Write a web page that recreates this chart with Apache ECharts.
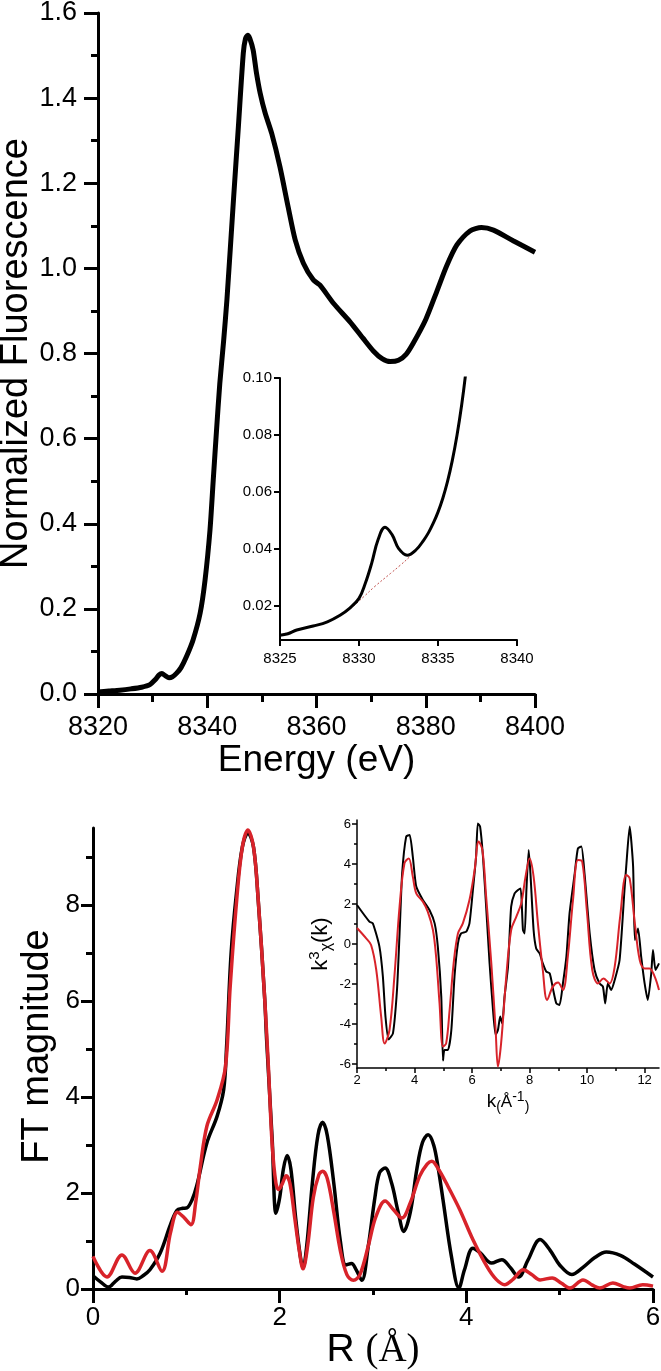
<!DOCTYPE html>
<html><head><meta charset="utf-8">
<script src="https://cdn.jsdelivr.net/npm/echarts@6/dist/echarts.min.js"></script>
<style>html,body{margin:0;padding:0;background:#fff}#c{width:661px;height:1371px}</style>
</head><body><div id="c"></div><script>
// ---------- DATA ----------
// XANES main spectrum
const xanesEnergy = [8320,8322,8324,8326,8328,8329.5,8330.5,8331.2,8331.7,8332.3,8333.0,8333.6,8334.4,8335.2,8336.2,8337.4,8338.7,8339.6,8340.5,8341.1,8341.7,8342.3,8343.0,8343.6,8344.8,8345.7,8346.6,8347.0,8347.4,8347.8,8348.4,8349.0,8349.7,8350.6,8351.8,8353.3,8354.8,8356.1,8357.6,8359.4,8360.6,8363.1,8366.1,8368.5,8370.4,8372.0,8373.5,8375.0,8376.4,8377.7,8380.0,8382.0,8383.8,8385.7,8388.1,8390.2,8392.4,8396.0,8400];
const xanesMu = [0.005,0.007,0.009,0.012,0.016,0.022,0.034,0.045,0.048,0.043,0.038,0.040,0.049,0.062,0.088,0.127,0.19,0.268,0.385,0.503,0.62,0.73,0.83,0.926,1.161,1.333,1.506,1.54,1.548,1.54,1.513,1.46,1.411,1.365,1.317,1.239,1.145,1.067,1.012,0.973,0.961,0.918,0.875,0.836,0.806,0.788,0.781,0.784,0.798,0.824,0.88,0.945,1.005,1.055,1.088,1.096,1.090,1.065,1.038];
// Pre-edge inset
const preEdgeEnergy = [8325,8325.5,8326.06,8327.1,8328.0,8328.8,8329.4,8330.0,8330.4,8330.8,8331.2,8331.65,8332.1,8332.5,8333.05,8333.6,8334.1,8334.4,8334.7,8335.0,8335.3,8335.6,8335.9,8336.2,8336.5,8336.75,8337.0];
const preEdgeMu = [0.0097,0.0102,0.0115,0.0129,0.0144,0.0167,0.0191,0.0226,0.0279,0.0349,0.0431,0.0476,0.0449,0.0402,0.0378,0.0396,0.0431,0.0457,0.0490,0.0529,0.0577,0.0636,0.0709,0.0798,0.0906,0.1015,0.1144];
const baselineEnergy = [8325,8326.06,8327.1,8328.0,8328.8,8329.3,8330.3,8331.0,8332.0,8332.6,8333.2,8333.8,8334.1,8334.4,8334.7,8335.0,8335.3,8335.6,8335.9,8336.2,8336.5,8336.75,8337.0];
const baselineMu = [0.0097,0.0115,0.0129,0.0144,0.0167,0.0183,0.0232,0.0268,0.0314,0.0342,0.0372,0.0408,0.0431,0.0457,0.0490,0.0529,0.0577,0.0636,0.0709,0.0798,0.0906,0.1015,0.1144];
// FT magnitude
const ftExpR = [0,0.08,0.167,0.24,0.31,0.39,0.47,0.54,0.61,0.72,0.83,0.90,0.96,1.006,1.06,1.11,1.22,1.33,1.40,1.43,1.48,1.54,1.60,1.66,1.72,1.77,1.84,1.86,1.92,1.96,2.00,2.04,2.08,2.12,2.17,2.22,2.25,2.29,2.35,2.41,2.46,2.51,2.58,2.65,2.71,2.77,2.82,2.88,2.95,3.02,3.07,3.13,3.20,3.27,3.33,3.40,3.47,3.53,3.59,3.65,3.70,3.75,3.84,3.92,3.98,4.07,4.15,4.27,4.38,4.47,4.56,4.66,4.79,4.90,5.00,5.13,5.25,5.38,5.50,5.65,5.80,6.00];
const ftExpMag = [0.277,0.15,0.04,0.16,0.25,0.24,0.21,0.28,0.40,0.75,1.34,1.64,1.68,1.69,1.85,2.14,3.04,3.6,4.15,5.0,7.0,8.3,9.2,9.5,9.2,8.1,6.03,5.2,3.11,1.58,1.9,2.5,2.78,2.5,1.5,0.7,0.44,0.9,2.2,3.2,3.47,3.2,2.2,1.0,0.5,0.53,0.4,0.18,0.9,1.9,2.42,2.52,2.2,1.6,1.2,1.6,2.5,3.05,3.21,3.0,2.5,1.86,0.68,0.02,0.4,0.85,0.75,0.54,0.61,0.45,0.25,0.6,1.03,0.8,0.5,0.30,0.45,0.66,0.77,0.7,0.52,0.25];
const ftFitR = [0,0.15,0.31,0.45,0.61,0.74,0.83,0.905,0.97,1.05,1.10,1.15,1.22,1.33,1.42,1.47,1.54,1.60,1.66,1.72,1.77,1.84,1.88,1.92,1.96,1.99,2.03,2.07,2.11,2.16,2.21,2.25,2.30,2.36,2.42,2.46,2.51,2.58,2.65,2.72,2.79,2.86,2.95,3.03,3.13,3.22,3.31,3.40,3.50,3.58,3.63,3.70,3.80,3.93,4.07,4.22,4.32,4.41,4.50,4.61,4.70,4.79,4.92,5.02,5.11,5.25,5.35,5.43,5.57,5.68,5.75,5.89,6.00];
const ftFitMag = [0.68,0.25,0.71,0.33,0.80,0.37,1.17,1.60,1.5,1.34,1.8,2.55,3.39,3.94,4.64,6.3,8.11,9.2,9.56,9.2,8.11,6.03,4.6,3.0,2.2,2.07,2.2,2.36,2.2,1.5,0.8,0.42,0.9,1.9,2.38,2.45,2.3,1.6,0.8,0.3,0.18,0.3,0.9,1.5,1.83,1.65,1.48,1.8,2.35,2.6,2.66,2.5,2.15,1.65,1.03,0.47,0.2,0.09,0.2,0.40,0.3,0.19,0.23,0.12,0.02,0.19,0.08,0.02,0.125,0.05,0.02,0.09,0.06];
// k-space EXAFS
const kExp = [2.0,2.43,2.55,2.78,2.9,2.99,3.1,3.25,3.39,3.48,3.57,3.71,3.83,3.94,4.06,4.29,4.52,4.7,4.81,4.93,4.99,5.04,5.16,5.28,5.39,5.51,5.62,5.8,5.91,6.03,6.14,6.2,6.28,6.38,6.49,6.61,6.72,6.82,6.9,6.98,7.05,7.13,7.25,7.36,7.48,7.6,7.69,7.77,7.83,7.89,7.97,8.03,8.14,8.23,8.35,8.46,8.58,8.7,8.81,8.93,9.04,9.16,9.28,9.39,9.57,9.68,9.8,9.91,10.09,10.26,10.43,10.55,10.63,10.72,10.84,10.96,11.13,11.3,11.36,11.48,11.6,11.66,11.77,11.88,12.0,12.11,12.23,12.29,12.38,12.5];
const chiExp = [1.95,1.12,1.03,-0.13,-1.63,-3.63,-4.77,-4.47,-2.3,0.53,3.53,5.37,5.45,4.37,2.87,2.2,1.7,1.03,-0.13,-2.63,-5.83,-5.3,-5.3,-4.3,-1.63,0.03,0.53,0.62,1.03,2.7,4.37,6.03,5.87,4.37,1.87,-0.97,-3.13,-4.55,-4.3,-3.63,-3.97,-2.63,-1.13,1.87,2.53,2.7,2.78,0.7,0.53,2.7,4.7,3.53,0.7,-0.22,-0.47,-0.97,-1.38,-1.47,-2.22,-2.97,-3.05,-1.97,-0.63,1.53,3.53,4.78,4.87,3.53,0.53,-1.3,-1.97,-2.13,-2.97,-1.97,-2.3,-1.8,-0.8,2.7,3.87,5.87,3.87,0.2,0.78,-0.63,-1.97,-2.8,-1.47,-0.3,-1.3,-0.97];
const kFit = [2.0,2.32,2.49,2.67,2.84,2.96,3.13,3.3,3.48,3.65,3.8,3.94,4.06,4.29,4.46,4.64,4.75,4.87,4.99,5.1,5.22,5.36,5.51,5.68,5.91,6.09,6.23,6.36,6.49,6.67,6.82,6.9,7.01,7.19,7.36,7.54,7.71,7.86,8.0,8.14,8.29,8.46,8.61,8.81,8.99,9.16,9.33,9.51,9.68,9.83,9.99,10.18,10.38,10.57,10.78,10.96,11.15,11.36,11.48,11.66,11.83,12.0,12.17,12.35,12.5];
const chiFit = [0.8,0.28,-0.05,-1.3,-3.63,-4.97,-4.3,-1.63,1.87,4.03,4.28,3.37,2.53,2.12,1.62,0.7,-0.63,-2.97,-5.13,-4.97,-3.3,-0.97,0.53,1.03,2.2,3.7,5.12,4.7,2.37,-0.97,-4.3,-6.13,-4.97,-1.63,0.7,1.37,2.03,3.37,4.28,3.37,1.03,-1.3,-2.8,-2.13,-1.93,-2.3,-0.63,2.2,4.2,4.12,1.7,-1.3,-1.97,-1.72,-1.97,-1.13,1.37,3.45,3.28,1.03,-0.8,-1.22,-1.22,-1.63,-2.3];
// tick labels
const insetYTicks = [0.02,0.04,0.06,0.08,0.10];
const ftYTicks = [0,2,4,6,8];
const ftYMinor = [1,3,5,7,9];
const kXTicks = [2,4,6,8,10,12];
const kXMinor = [3,5,7,9,11];
const kYTicks = [-6,-4,-2,0,2,4,6];
const kYMinor = [-5,-3,-1,1,3,5];

// ---------- CHART ----------
const F = '"Liberation Sans", Arial, sans-serif';
const BLACK = '#000', RED = '#d8232a';
const zip = (a, b) => a.map((v, i) => [v, b[i]]);

function ax(o) {
  const lw = o.lw || 2;
  const base = {
    type: 'value', gridIndex: o.grid, min: o.min, max: o.max, position: o.pos,
    splitLine: { show: false }, minorSplitLine: { show: false },
    axisLine: { show: o.line !== false, onZero: false, lineStyle: { color: BLACK, width: lw } },
    axisTick: { show: true, length: o.tl || 6, lineStyle: { color: BLACK, width: lw } },
    axisLabel: { show: o.labels !== false, fontSize: o.fs || 14, margin: o.margin || 8, color: BLACK, fontFamily: F,
      formatter: o.fmt || (v => String(v)) },
    nameMoveOverlap: false,
    silent: true
  };
  if (o.interval !== undefined) base.interval = o.interval;
  if (o.custom) { base.axisTick.customValues = o.custom; base.axisLabel.customValues = o.custom; }
  if (o.minor) base.minorTick = { show: true, splitNumber: 2, length: o.ml || 4, lineStyle: { color: BLACK, width: lw } };
  if (o.name) {
    base.name = o.name; base.nameLocation = 'middle'; base.nameGap = o.gap;
    base.nameTextStyle = Object.assign({ fontSize: o.nfs, color: BLACK, fontFamily: F }, o.nstyle || {});
  }
  return base;
}

const option = {
  animation: false,
  backgroundColor: '#fff',
  grid: [
    { left: 98, top: 13, width: 437, height: 681, outerBoundsMode: 'none', containLabel: false },
    { left: 280, top: 378, width: 237, height: 262, outerBoundsMode: 'none', containLabel: false },
    { left: 93, top: 828, width: 560, height: 461, outerBoundsMode: 'none', containLabel: false },
    { left: 357, top: 820, width: 302, height: 248, outerBoundsMode: 'none', containLabel: false }
  ],
  xAxis: [
    ax({ grid: 0, pos: 'bottom', min: 8320, max: 8400, interval: 20, lw: 3, tl: 14, minor: true, ml: 8, fs: 27, margin: 20,
      name: 'Energy (eV)', gap: 48, nfs: 37 }),
    ax({ grid: 1, pos: 'bottom', min: 8325, max: 8340, interval: 5, lw: 2, tl: 6, fs: 15, margin: 11 }),
    ax({ grid: 2, pos: 'bottom', min: 0, max: 6, interval: 2, lw: 3, tl: 14, minor: true, ml: 6, fs: 26, margin: 16,
      name: '{a|R }{b|(Å)}', gap: 42, nfs: 39,
      nstyle: { rich: { a: { fontSize: 39, fontFamily: F, color: BLACK }, b: { fontSize: 39, fontFamily: '"Liberation Serif", "Times New Roman", serif', color: BLACK } } } }),
    ax({ grid: 3, pos: 'bottom', min: 2, max: 12.5, custom: kXTicks, lw: 1.5, tl: 5, fs: 13, margin: 6,
      name: '{k|k}{p|(}{a|Å}{s|-1}{p|)}', gap: 22, nfs: 18,
      nstyle: { rich: {
        k: { fontSize: 19, fontFamily: F, color: BLACK, lineHeight: 24 },
        p: { fontSize: 14, fontFamily: F, color: BLACK, verticalAlign: 'bottom', lineHeight: 24 },
        a: { fontSize: 17, fontFamily: F, color: BLACK, lineHeight: 24 },
        s: { fontSize: 14, fontFamily: F, color: BLACK, verticalAlign: 'top', lineHeight: 24 } } } }),
    ax({ grid: 3, pos: 'bottom', min: 2, max: 12.5, custom: kXMinor, lw: 1.5, tl: 3, labels: false, line: false })
  ],
  yAxis: [
    ax({ grid: 0, pos: 'left', min: 0, max: 1.6, interval: 0.2, lw: 3, tl: 14, minor: true, ml: 7, fs: 27, margin: 21,
      fmt: v => v.toFixed(1), name: 'Normalized Fluorescence', gap: 62, nfs: 38 }),
    ax({ grid: 1, pos: 'left', min: 0.008, max: 0.1, custom: insetYTicks, lw: 2, tl: 6, fs: 15, margin: 8,
      fmt: v => v.toFixed(2) }),
    ax({ grid: 2, pos: 'left', min: 0, max: 9.6, custom: ftYTicks, lw: 3, tl: 12, fs: 26, margin: 13,
      name: 'FT magnitude', gap: 36, nfs: 38, nstyle: { padding: [0, 0, 0, 24] } }),
    ax({ grid: 2, pos: 'left', min: 0, max: 9.6, custom: ftYMinor, lw: 3, tl: 7, labels: false, line: false }),
    ax({ grid: 3, pos: 'left', min: -6.2, max: 6.2, custom: kYTicks, lw: 1.5, tl: 5, fs: 13, margin: 6,
      name: '{k|k}{s|3}{c|χ}{k|(k)}', gap: 22, nfs: 21,
      nstyle: { rich: {
        k: { fontSize: 22, fontFamily: F, color: BLACK, lineHeight: 28 },
        s: { fontSize: 15, fontFamily: F, color: BLACK, verticalAlign: 'top', lineHeight: 28 },
        c: { fontSize: 16, fontFamily: F, color: BLACK, verticalAlign: 'bottom', lineHeight: 28 } } } }),
    ax({ grid: 3, pos: 'left', min: -6.2, max: 6.2, custom: kYMinor, lw: 1.5, tl: 3, labels: false, line: false })
  ],
  series: [
    { type: 'line', xAxisIndex: 0, yAxisIndex: 0, data: zip(xanesEnergy, xanesMu), showSymbol: false, symbol: 'none',
      smooth: 0.25, lineStyle: { color: BLACK, width: 5 }, z: 3 },
    { type: 'line', xAxisIndex: 1, yAxisIndex: 1, data: zip(baselineEnergy, baselineMu), showSymbol: false, symbol: 'none',
      smooth: 0.4, lineStyle: { color: '#c0504d', width: 1, type: [2, 2] }, z: 2 },
    { type: 'line', xAxisIndex: 1, yAxisIndex: 1, data: zip(preEdgeEnergy, preEdgeMu), showSymbol: false, symbol: 'none',
      smooth: 0.4, lineStyle: { color: BLACK, width: 3 }, z: 3 },
    { type: 'line', xAxisIndex: 2, yAxisIndex: 2, data: zip(ftExpR, ftExpMag), showSymbol: false, symbol: 'none',
      smooth: 0.35, lineStyle: { color: BLACK, width: 3.5 }, z: 2 },
    { type: 'line', xAxisIndex: 2, yAxisIndex: 2, data: zip(ftFitR, ftFitMag), showSymbol: false, symbol: 'none',
      smooth: 0.35, lineStyle: { color: RED, width: 3.5 }, z: 3 },
    { type: 'line', xAxisIndex: 3, yAxisIndex: 4, data: zip(kExp, chiExp), showSymbol: false, symbol: 'none',
      smooth: 0.2, lineStyle: { color: BLACK, width: 2 }, z: 2 },
    { type: 'line', xAxisIndex: 3, yAxisIndex: 4, data: zip(kFit, chiFit), showSymbol: false, symbol: 'none',
      smooth: 0.35, lineStyle: { color: RED, width: 2 }, z: 3 }
  ]
};
const chart = echarts.init(document.getElementById('c'));
chart.setOption(option);
</script></body></html>
